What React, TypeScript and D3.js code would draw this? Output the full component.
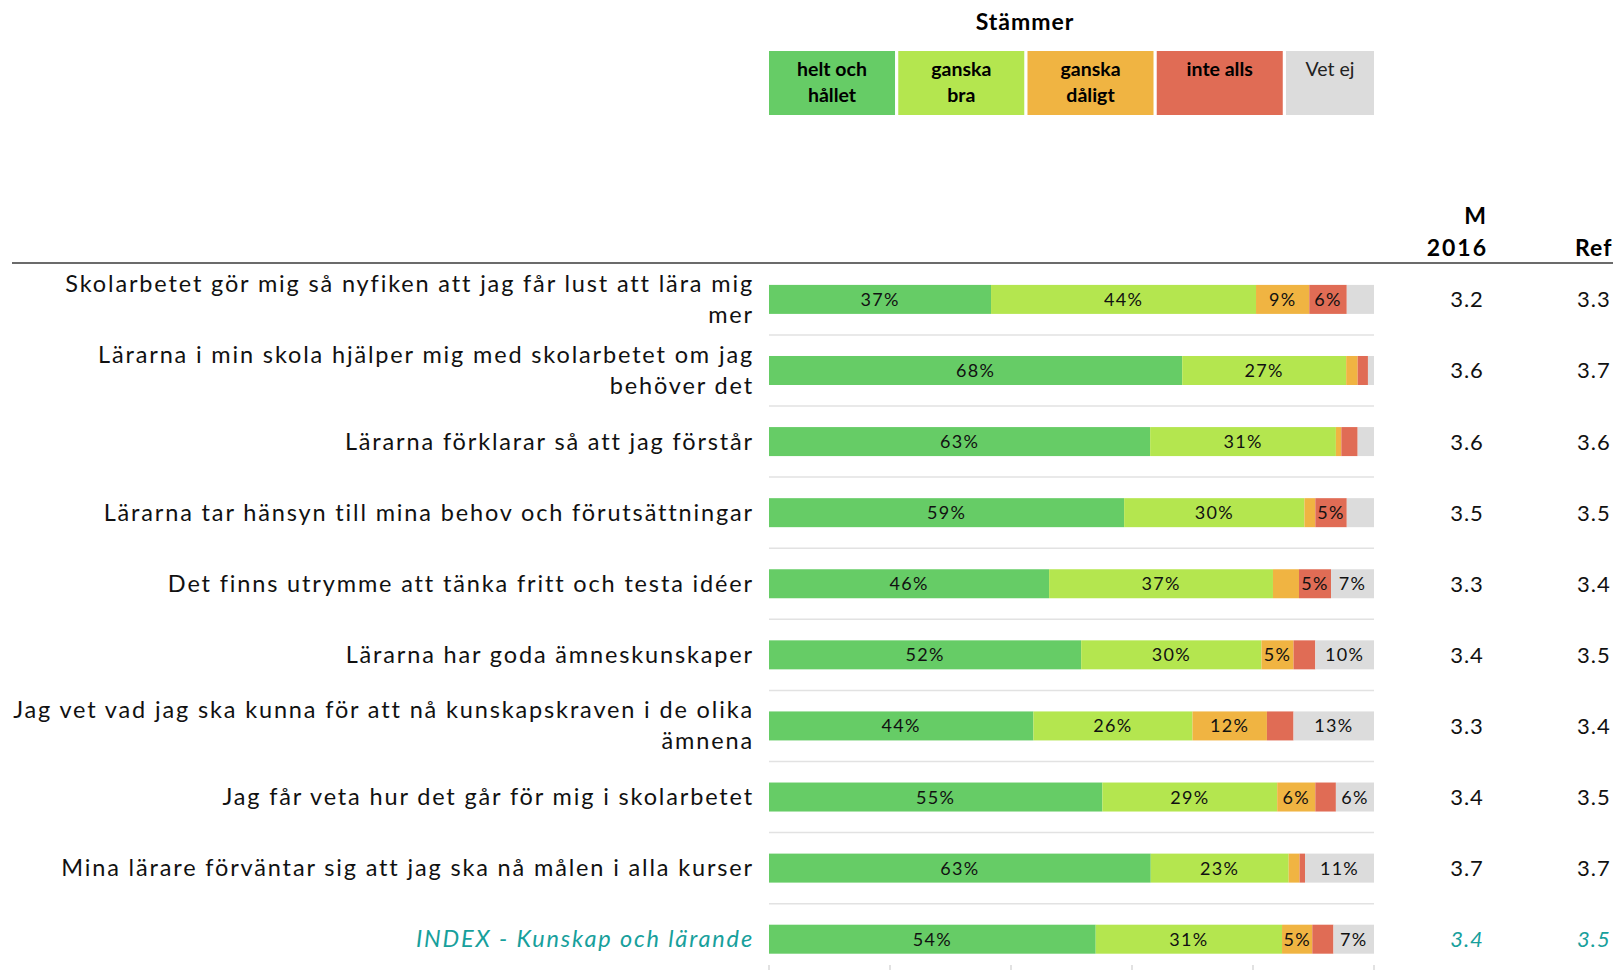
import React from "react";
import * as d3 from "d3";

const categories = [
  ["Skolarbetet gör mig så nyfiken att jag får lust att lära mig", "mer"],
  ["Lärarna i min skola hjälper mig med skolarbetet om jag", "behöver det"],
  ["Lärarna förklarar så att jag förstår"],
  ["Lärarna tar hänsyn till mina behov och förutsättningar"],
  ["Det finns utrymme att tänka fritt och testa idéer"],
  ["Lärarna har goda ämneskunskaper"],
  ["Jag vet vad jag ska kunna för att nå kunskapskraven i de olika", "ämnena"],
  ["Jag får veta hur det går för mig i skolarbetet"],
  ["Mina lärare förväntar sig att jag ska nå målen i alla kurser"],
  ["INDEX - Kunskap och lärande"],
];

const heltOchHallet = [36.7, 68.3, 63.0, 58.7, 46.3, 51.6, 43.7, 55.1, 63.1, 54.0];
const ganskaBra = [43.8, 27.1, 30.7, 29.8, 37.0, 29.8, 26.3, 28.9, 22.8, 30.8];
const ganskaDaligt = [8.8, 1.9, 0.9, 1.8, 4.3, 5.3, 12.3, 6.3, 1.8, 5.0];
const inteAlls = [6.2, 1.7, 2.7, 5.2, 5.3, 3.6, 4.4, 3.4, 0.9, 3.5];
const vetEj = [4.5, 1.0, 2.7, 4.5, 7.1, 9.7, 13.3, 6.3, 11.4, 6.7];

const m2016 = ["3.2", "3.6", "3.6", "3.5", "3.3", "3.4", "3.3", "3.4", "3.7", "3.4"];
const ref = ["3.3", "3.7", "3.6", "3.5", "3.4", "3.5", "3.4", "3.5", "3.7", "3.5"];

const seriesKeys = ["helt", "bra", "daligt", "inte", "vetej"];
const legendLabels = [["helt och", "hållet"], ["ganska", "bra"], ["ganska", "dåligt"], ["inte alls"], ["Vet ej"]];
const colors = ["#66cc66", "#b4e64f", "#f0b442", "#e06c55", "#dcdcdc"];
const xTicks = [0, 20, 40, 60, 80, 100];

const W = 1613;
const H = 970;
const FONT = "Lato, 'Open Sans', sans-serif";
const TEAL = "#17a09c";

export default function App() {
  const rows = categories.map((c, i) => ({
    key: String(i),
    helt: heltOchHallet[i],
    bra: ganskaBra[i],
    daligt: ganskaDaligt[i],
    inte: inteAlls[i],
    vetej: vetEj[i],
  }));
  const stack = d3.stack<any>().keys(seriesKeys)(rows);

  const x = d3.scaleLinear().domain([0, 100]).range([769, 1374]);
  const y = d3.scalePoint<string>().domain(rows.map((r) => r.key)).range([299.4, 939.2]);
  const barH = 29;
  const step = y.step();

  const legendX = d3.scaleBand<number>().domain([0, 1, 2, 3, 4]).range([769, 1412]).paddingInner(0.025);

  return (
    <svg width={W} height={H} style={{ display: "block", position: "absolute", left: 0, top: 0 }} fontFamily={FONT}>
      <rect width={W} height={H} fill="#fff" />
      {/* Title */}
      <text x={1025} y={30} textAnchor="middle" fontWeight={700} fontSize={23} letterSpacing={1} fill="#000">
        Stämmer
      </text>
      {/* Legend */}
      {legendLabels.map((lines, i) => {
        const lx = legendX(i)!;
        const lw = i < 4 ? legendX.bandwidth() : x(100) - lx;
        return (
          <g key={i}>
            <rect x={lx} y={51} width={lw} height={64} fill={colors[i]} />
            {lines.map((t, j) => (
              <text
                key={j}
                x={lx + lw / 2}
                y={76 + j * 26}
                textAnchor="middle"
                fontSize={19.5}
                fontWeight={i < 4 ? 700 : 400}
                fill={i < 4 ? "#000" : "#222"}
              >
                {t}
              </text>
            ))}
          </g>
        );
      })}
      {/* Column headers */}
      <text x={1486} y={224} textAnchor="end" fontWeight={700} fontSize={23}>M</text>
      <text x={1488} y={256} textAnchor="end" fontWeight={700} fontSize={23} letterSpacing={2}>2016</text>
      <text x={1575} y={256} textAnchor="start" fontWeight={700} fontSize={23} letterSpacing={1}>Ref</text>
      <line x1={12} x2={W} y1={263} y2={263} stroke="#6b6b6b" strokeWidth={2} />

      {/* separators */}
      {rows.slice(0, -1).map((r) => (
        <line
          key={"s" + r.key}
          x1={x(0)}
          x2={x(100)}
          y1={y(r.key)! + step / 2}
          y2={y(r.key)! + step / 2}
          stroke="#e2e2e2"
          strokeWidth={1.5}
        />
      ))}

      {/* bars */}
      {stack.map((s, si) => (
        <g key={s.key}>
          {s.map((d, i) => {
            const cy = y(rows[i].key)!;
            const v = d[1] - d[0];
            const x0 = x(d[0]);
            const x1 = x(d[1]);
            return (
              <g key={i}>
                <rect x={x0} y={cy - barH / 2} width={Math.max(0, x1 - x0)} height={barH} fill={colors[si]} />
                {v >= 5 && (
                  <text
                    x={(x0 + x1) / 2}
                    y={cy + 6.5}
                    textAnchor="middle"
                    fontSize={18}
                    letterSpacing={1.3}
                    fill="#111"
                  >
                    {Math.round(v) + "%"}
                  </text>
                )}
              </g>
            );
          })}
        </g>
      ))}

      {/* axis ticks */}
      {xTicks.map((t) => (
        <line key={t} x1={x(t)} x2={x(t)} y1={965} y2={970} stroke="#d9d9d9" strokeWidth={1.5} />
      ))}

      {/* row labels */}
      {categories.map((lines, i) => {
        const cy = y(String(i))!;
        const isIndex = i === categories.length - 1;
        const lh = 31;
        const start = cy - ((lines.length - 1) * lh) / 2;
        return (
          <g key={"l" + i}>
            {lines.map((t, j) => (
              <text
                key={j}
                x={754}
                y={start + j * lh + 8}
                textAnchor="end"
                fontSize={23.5}
                letterSpacing={1.85}
                fontStyle={isIndex ? "italic" : "normal"}
                fill={isIndex ? TEAL : "#111"}
              >
                {t}
              </text>
            ))}
            <text
              x={1467}
              y={cy + 8}
              textAnchor="middle"
              fontSize={22}
              letterSpacing={1}
              fontStyle={isIndex ? "italic" : "normal"}
              fill={isIndex ? TEAL : "#111"}
            >
              {m2016[i]}
            </text>
            <text
              x={1577}
              y={cy + 8}
              textAnchor="start"
              fontSize={22}
              letterSpacing={1}
              fontStyle={isIndex ? "italic" : "normal"}
              fill={isIndex ? TEAL : "#111"}
            >
              {ref[i]}
            </text>
          </g>
        );
      })}
    </svg>
  );
}
